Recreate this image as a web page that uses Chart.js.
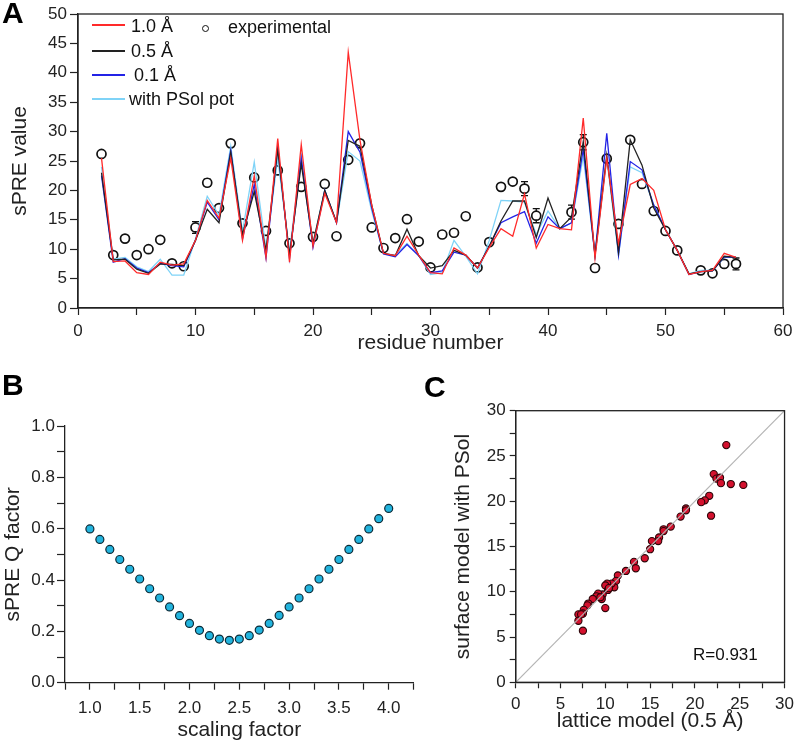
<!DOCTYPE html>
<html>
<head>
<meta charset="utf-8">
<script src="https://cdn.jsdelivr.net/npm/chart.js@4.4.1/dist/chart.umd.min.js"></script>
<style>
  body { margin: 0; background: #fff; font-family: "Liberation Sans", Arial, sans-serif; }
  #wrap { position: relative; width: 800px; height: 745px; overflow: hidden; background: #fff; }
  canvas { position: absolute; }
  .panel { position: absolute; font-weight: bold; font-size: 30px; line-height: 1; color: #000; }
  .leg { position: absolute; font-size: 18px; line-height: 22px; color: #111; white-space: pre; }
  .sw { position: absolute; height: 2px; width: 33px; }
  .dot { position: absolute; width: 5px; height: 5px; border: 1.5px solid #111; border-radius: 50%; background: #fff; }
</style>
</head>
<body>
<div id="wrap">
  <canvas id="chartA" width="800" height="360" style="left:0;top:0"></canvas>
  <canvas id="chartB" width="430" height="375" style="left:0;top:370px"></canvas>
  <canvas id="chartC" width="390" height="375" style="left:410px;top:370px"></canvas>

  <div class="panel" style="left:2px;top:-2px">A</div>
  <div class="panel" style="left:2px;top:370px">B</div>
  <div class="panel" style="left:424px;top:372px">C</div>

  <div class="sw" style="left:92px;top:24px;background:#ff2a2a"></div>
  <div class="leg" style="left:131px;top:15px">1.0 Å</div>
  <div class="sw" style="left:92px;top:50px;background:#222"></div>
  <div class="leg" style="left:131px;top:40px">0.5 Å</div>
  <div class="sw" style="left:92px;top:74px;background:#2323e6"></div>
  <div class="leg" style="left:134px;top:64px">0.1 Å</div>
  <div class="sw" style="left:92px;top:98px;background:#7fd3f7"></div>
  <div class="leg" style="left:129px;top:88px">with PSol pot</div>
  <div class="dot" style="left:202px;top:25px"></div>
  <div class="leg" style="left:228px;top:16px">experimental</div>

  <div class="leg" style="left:693px;top:644px;font-size:17px">R=0.931</div>
</div>

<script>
// panel A: sPRE per residue
const residues = [2, 3, 4, 5, 6, 7, 8, 9, 10, 11, 12, 13, 14, 15, 16, 17, 18, 19, 20, 21,
  22, 23, 24, 25, 26, 27, 28, 29, 30, 31, 32, 33, 34, 35, 36, 37, 38, 39, 40, 41,
  42, 43, 44, 45, 46, 47, 48, 49, 50, 51, 52, 53, 54, 55, 56];
const lat10 = [25.5, 7.9, 8.0, 6.0, 5.7, 7.8, 7.3, 7.5, 11.5, 18.3, 15.3, 25.5, 11.5, 22.5, 8.6, 28.8, 7.8, 27.8, 10.5, 19.5,
  14.5, 43.5, 28.5, 17.5, 9.3, 8.9, 12.2, 9.0, 6.0, 5.8, 10.2, 9.0, 6.8, 10.3, 13.5, 12.2, 19.4, 10.2, 14.2, 13.5,
  13.3, 32.3, 8.5, 25.5, 11.0, 21.0, 22.0, 20.0, 13.3, 9.8, 5.7, 6.2, 6.4, 9.3, 8.6];
const lat05 = [23.0, 8.2, 8.3, 6.6, 5.9, 7.5, 7.4, 7.2, 11.5, 16.8, 14.5, 26.5, 12.5, 19.8, 9.8, 27.0, 9.0, 24.5, 11.0, 20.0,
  14.6, 28.5, 27.5, 17.5, 9.3, 8.9, 13.4, 8.9, 6.8, 7.2, 9.8, 9.0, 6.8, 10.5, 14.8, 18.2, 18.2, 12.0, 18.7, 13.5,
  15.5, 28.3, 9.0, 26.0, 9.5, 28.6, 24.3, 17.0, 13.3, 9.8, 5.8, 6.2, 6.3, 8.8, 8.6];
const lat01 = [22.5, 7.8, 8.4, 6.8, 6.0, 7.6, 7.2, 7.0, 11.5, 18.0, 15.0, 26.8, 11.8, 21.0, 8.5, 27.5, 8.5, 25.5, 10.3, 20.0,
  14.5, 30.0, 26.5, 17.0, 9.2, 8.7, 10.8, 8.9, 6.0, 6.3, 9.5, 9.0, 6.8, 10.5, 14.5, 15.5, 16.4, 11.0, 15.5, 13.5,
  14.5, 27.0, 9.0, 29.7, 9.0, 24.9, 23.5, 17.5, 13.3, 9.8, 5.7, 6.2, 6.3, 8.7, 8.6];
const psol = [24.0, 8.3, 8.6, 7.0, 6.2, 8.3, 5.6, 5.6, 11.8, 19.0, 15.8, 27.5, 13.0, 24.8, 10.0, 25.5, 9.5, 26.0, 11.0, 20.0,
  14.5, 26.6, 25.0, 16.5, 9.3, 9.0, 11.0, 8.9, 5.7, 6.0, 11.5, 8.8, 5.8, 11.5, 18.3, 18.2, 18.0, 12.5, 16.5, 13.5,
  14.5, 25.8, 9.0, 25.5, 9.0, 24.0, 23.0, 17.5, 13.3, 9.8, 5.8, 6.4, 6.4, 8.6, 8.6];
const experimental = [26.2, 9.0, 11.8, 9.0, 10.0, 11.6, 7.6, 7.1, 13.7, 21.3, 17.0, 28.0, 14.4, 22.2, 13.1, 23.4, 11.0, 20.6, 12.1, 21.1,
  12.2, 25.2, 28.0, 13.7, 10.2, 11.9, 15.1, 11.3, 6.9, 12.5, 12.8, 15.6, 6.9, 11.2, 20.6, 21.5, 20.3, 15.7, null, null,
  16.3, 28.2, 6.8, 25.4, 14.3, 28.6, 21.1, 16.5, 13.1, 9.8, null, 6.4, 5.9, 7.5, 7.5];
const expError = [0, 0, 0, 0, 0, 0, 0, 0, 1.0, 0.6, 0.4, 0, 0, 0, 0, 0, 0, 0, 0, 0,
  0, 0, 0, 0, 0, 0, 0, 0, 0, 0, 0, 0, 0, 0, 0, 0, 1.2, 1.2, 0, 0,
  1.2, 1.3, 0, 0, 0, 0, 0, 0, 0, 0, 0, 0, 0.4, 0.6, 1.0];

// panel B: Q factor vs scaling factor
const scaling = [1.0, 1.1, 1.2, 1.3, 1.4, 1.5, 1.6, 1.7, 1.8, 1.9, 2.0, 2.1, 2.2, 2.3, 2.4, 2.5,
  2.6, 2.7, 2.8, 2.9, 3.0, 3.1, 3.2, 3.3, 3.4, 3.5, 3.6, 3.7, 3.8, 3.9, 4.0];
const qFactor = [0.599, 0.558, 0.519, 0.480, 0.442, 0.404, 0.366, 0.330, 0.295, 0.261, 0.231, 0.204, 0.183, 0.170, 0.165, 0.170,
  0.183, 0.205, 0.231, 0.262, 0.295, 0.330, 0.366, 0.404, 0.442, 0.480, 0.519, 0.558, 0.599, 0.639, 0.679];

// panel C: lattice (0.5 A) vs surface model with PSol
const lattice = [23.5, 22.1, 22.4, 22.8, 22.9, 24.0, 25.4, 21.6, 21.1, 20.7, 21.8, 19.0, 19.0, 18.4, 17.3, 16.5,
  16.5, 16.0, 15.9, 15.2, 15.0, 14.4, 13.2, 13.4, 12.3, 11.4, 11.2, 11.0, 10.7, 10.2, 10.0, 10.3,
  10.4, 10.0, 9.7, 9.2, 9.6, 9.0, 8.6, 8.1, 8.0, 7.6, 7.5, 7.0, 7.3, 7.0, 7.5, 9.45];
const surface = [26.2, 23.0, 22.5, 22.6, 22.0, 21.9, 21.8, 20.6, 20.1, 19.9, 18.4, 19.2, 19.0, 18.3, 17.2, 16.9,
  16.7, 16.0, 15.6, 15.6, 14.7, 13.7, 13.3, 12.6, 12.3, 11.8, 11.2, 10.5, 10.9, 10.9, 10.7, 10.2,
  10.4, 8.2, 9.7, 9.8, 9.2, 9.5, 9.2, 8.7, 8.5, 8.0, 7.6, 7.5, 7.5, 6.8, 5.7, 9.4];

const FONT = '"Liberation Sans", Arial, sans-serif';
const INK = '#222';

function pts(xs, ys) {
  const out = [];
  xs.forEach((x, i) => { if (ys[i] !== null) out.push({ x: x, y: ys[i] }); });
  return out;
}

function lineSet(label, ys, color) {
  return {
    label: label, data: pts(residues, ys), showLine: true, borderColor: color,
    borderWidth: 1.3, pointRadius: 0, tension: 0, fill: false
  };
}

function axis(opts) {
  return {
    type: 'linear',
    min: opts.min, max: opts.max,
    afterFit: opts.fit,
    border: { display: true, color: INK, width: 1.3 },
    grid: { drawOnChartArea: false, drawTicks: true, tickLength: opts.tick, tickColor: INK, tickWidth: 1.2 },
    ticks: {
      stepSize: opts.step, autoSkip: false, maxRotation: 0, padding: opts.pad,
      color: INK, font: { family: FONT, size: 17 }, callback: opts.label
    },
    title: {
      display: true, text: opts.title, color: INK,
      font: { family: FONT, size: 21 }, padding: opts.titlePad
    }
  };
}

const frame = {
  id: 'frame',
  afterDraw(chart) {
    const a = chart.chartArea, ctx = chart.ctx;
    ctx.save();
    ctx.strokeStyle = INK;
    ctx.lineWidth = 1.3;
    ctx.strokeRect(a.left, a.top, a.right - a.left, a.bottom - a.top);
    ctx.restore();
  }
};

const errorBars = {
  id: 'errorBars',
  beforeDatasetDraw(chart, args) {
    if (args.index !== 4) return;
    const ctx = chart.ctx, xs = chart.scales.x, ys = chart.scales.y;
    ctx.save();
    ctx.strokeStyle = '#111';
    ctx.lineWidth = 1.3;
    residues.forEach((r, i) => {
      const v = experimental[i], e = expError[i];
      if (v === null || !e) return;
      const px = xs.getPixelForValue(r);
      const t = ys.getPixelForValue(v + e), b = ys.getPixelForValue(v - e);
      ctx.beginPath();
      ctx.moveTo(px, t); ctx.lineTo(px, b);
      ctx.moveTo(px - 3.5, t); ctx.lineTo(px + 3.5, t);
      ctx.moveTo(px - 3.5, b); ctx.lineTo(px + 3.5, b);
      ctx.stroke();
    });
    ctx.restore();
  }
};

const base = {
  responsive: false,
  animation: false,
  events: [],
  plugins: { legend: { display: false }, tooltip: { enabled: false } }
};

// ---- A ----
new Chart(document.getElementById('chartA'), {
  type: 'scatter',
  data: {
    datasets: [
      lineSet('1.0 Å', lat10, '#ff2a2a'),
      lineSet('0.5 Å', lat05, '#222222'),
      lineSet('0.1 Å', lat01, '#2323e6'),
      lineSet('with PSol pot', psol, '#7fd3f7'),
      {
        label: 'experimental', data: pts(residues, experimental),
        pointRadius: 4.5, pointBackgroundColor: '#fff', pointBorderColor: '#111', pointBorderWidth: 1.7
      }
    ]
  },
  options: Object.assign({}, base, {
    layout: { padding: { top: 14, right: 17, left: 0, bottom: 0 } },
    scales: {
      x: axis({ min: 0, max: 60, step: 5, tick: 7, pad: 6, title: 'residue number',
        titlePad: { top: 0, bottom: 4 },
        fit: s => { s.height = 52; },
        label: v => (v % 10 === 0 ? v : '') }),
      y: axis({ min: 0, max: 50, step: 5, tick: 8, pad: 3, title: 'sPRE value',
        titlePad: { top: 8, bottom: 0 },
        fit: s => { s.width = 78; },
        label: v => v })
    }
  }),
  plugins: [frame, errorBars]
});

// ---- B ----
new Chart(document.getElementById('chartB'), {
  type: 'scatter',
  data: {
    datasets: [{
      label: 'Q factor', data: pts(scaling, qFactor),
      pointRadius: 4, pointBackgroundColor: '#22b4de', pointBorderColor: '#0d2a36', pointBorderWidth: 1.2
    }]
  },
  options: Object.assign({}, base, {
    layout: { padding: { top: 56, right: 16.4, left: 0, bottom: 0 } },
    scales: {
      x: axis({ min: 0.75, max: 4.25, step: 0.25, tick: 7, pad: 8, title: 'scaling factor',
        titlePad: { top: 0, bottom: 2 },
        fit: s => { s.height = 62.3; },
        label: v => {
          const h = Math.round(v * 4);
          return (h % 2 === 0 && v >= 1 && v <= 4) ? v.toFixed(1) : '';
        } }),
      y: axis({ min: 0, max: 1, step: 0.1, tick: 8, pad: 2, title: 'sPRE Q factor',
        titlePad: { top: 1, bottom: 0 },
        fit: s => { s.width = 65; },
        label: v => (Math.round(v * 10) % 2 === 0 ? v.toFixed(1) : '') })
    }
  })
});

// ---- C ----
new Chart(document.getElementById('chartC'), {
  type: 'scatter',
  data: {
    datasets: [
      {
        label: 'identity', data: [{ x: 0, y: 0 }, { x: 30, y: 30 }], showLine: true,
        borderColor: '#b4b4b4', borderWidth: 1.2, pointRadius: 0
      },
      {
        label: 'residues', data: pts(lattice, surface),
        pointRadius: 3.6, pointBackgroundColor: '#d4112e', pointBorderColor: '#2a0508', pointBorderWidth: 1.1
      }
    ]
  },
  options: Object.assign({}, base, {
    layout: { padding: { top: 40.7, right: 13.3, left: 0, bottom: 0 } },
    scales: {
      x: axis({ min: 0, max: 30, step: 2.5, tick: 6, pad: 6, title: 'lattice model (0.5 Å)',
        titlePad: { top: 0, bottom: 11 },
        fit: s => { s.height = 62.7; },
        label: v => (v % 5 === 0 ? v : '') }),
      y: axis({ min: 0, max: 30, step: 2.5, tick: 6, pad: 4, title: 'surface model with PSol',
        titlePad: { top: 41, bottom: 0 },
        fit: s => { s.width = 105.7; },
        label: v => (v % 5 === 0 ? v : '') })
    }
  }),
  plugins: [frame]
});
</script>
</body>
</html>
